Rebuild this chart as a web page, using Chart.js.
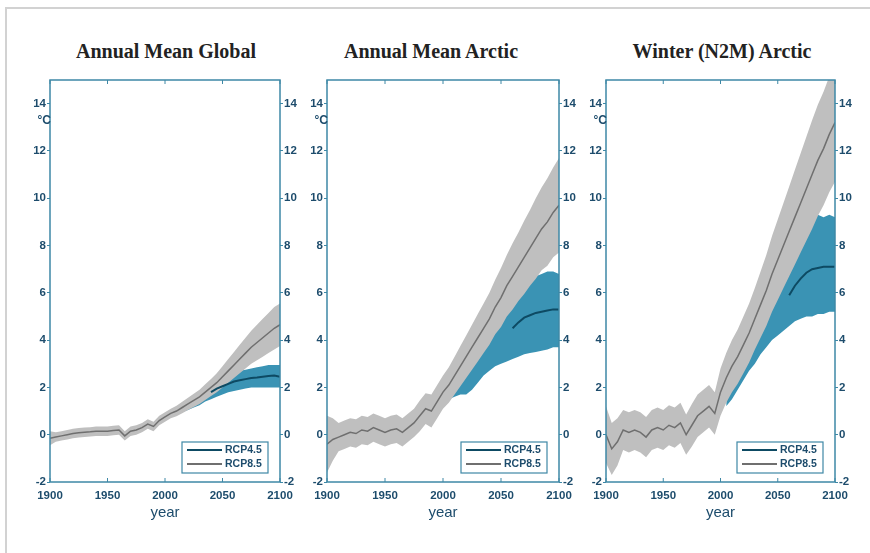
<!DOCTYPE html>
<html lang="en">
<head>
<meta charset="UTF-8">
<title>Temperature change projections</title>
<script src="https://cdn.jsdelivr.net/npm/chart.js@4.4.1/dist/chart.umd.min.js"></script>
<style>
  body { margin:0; background:#fff; width:870px; height:553px; position:relative; overflow:hidden; font-family:'Liberation Sans', Arial, sans-serif; }
  .frame { position:absolute; left:5px; top:7px; right:0; bottom:0; border-left:2px solid #d2d2d2; border-top:2px solid #d2d2d2; }
  .title { position:absolute; top:41px; line-height:20px; font-family:'Liberation Serif','Times New Roman',serif; font-weight:bold; font-size:20px; color:#222; white-space:nowrap; transform:translateX(-50%); }
  canvas { position:absolute; }
</style>
</head>
<body>
<div class="frame"></div>
<div class="title" style="left:166px">Annual Mean Global</div>
<div class="title" style="left:431px">Annual Mean Arctic</div>
<div class="title" style="left:722px">Winter (N2M) Arctic</div>
<canvas id="c1"></canvas>
<canvas id="c2"></canvas>
<canvas id="c3"></canvas>
<script>
// years for the RCP8.5 runs (historical + projection)
const years = [1900,1905,1910,1915,1920,1925,1930,1935,1940,1945,1950,1955,1960,1965,1970,1975,1980,1985,1990,1995,
               2000,2005,2010,2015,2020,2025,2030,2035,2040,2045,2050,2055,2060,2065,2070,2075,2080,2085,2090,2095,2100];
const bandYears45 = [2005,2010,2015,2020,2025,2030,2035,2040,2045,2050,2055,2060,2065,2070,2075,2080,2085,2090,2095,2100];
const lineYearsGlobal45 = [2040,2045,2050,2055,2060,2065,2070,2075,2080,2085,2090,2095,2100];
const lineYearsArctic45 = [2060,2065,2070,2075,2080,2085,2090,2095,2100];

const xTicks = [1900,1950,2000,2050,2100];
const yTicks = [-2,0,2,4,6,8,10,12,14];

// Annual mean global
const global85 = [-0.15,-0.1,-0.05,0.0,0.05,0.08,0.1,0.12,0.15,0.15,0.15,0.18,0.2,-0.05,0.15,0.2,0.3,0.45,0.35,0.6,
                  0.75,0.9,1.0,1.15,1.3,1.45,1.6,1.8,2.0,2.2,2.45,2.7,2.95,3.2,3.45,3.7,3.9,4.1,4.3,4.5,4.65];
const global85Lo = [-0.45,-0.3,-0.25,-0.2,-0.15,-0.12,-0.1,-0.08,-0.05,-0.05,-0.05,-0.02,0.0,-0.25,-0.05,0.0,0.1,0.25,0.15,0.4,
                    0.55,0.7,0.78,0.91,1.04,1.17,1.3,1.47,1.64,1.8,2.0,2.2,2.4,2.6,2.8,3.0,3.15,3.3,3.45,3.6,3.75];
const global85Hi = [0.15,0.1,0.15,0.2,0.25,0.28,0.3,0.32,0.35,0.35,0.35,0.38,0.4,0.15,0.35,0.4,0.5,0.65,0.55,0.8,
                    0.95,1.1,1.22,1.39,1.56,1.73,1.9,2.13,2.36,2.6,2.9,3.2,3.5,3.8,4.1,4.4,4.65,4.9,5.15,5.4,5.55];
const global45Lo = [0.75,0.85,0.95,1.05,1.15,1.25,1.4,1.5,1.6,1.7,1.8,1.85,1.9,1.95,2.0,2.0,2.0,2.0,2.0,2.0];
const global45Hi = [1.05,1.15,1.3,1.45,1.6,1.75,1.9,2.05,2.2,2.35,2.5,2.6,2.7,2.75,2.8,2.85,2.9,2.95,2.95,2.95];
const global45 = [1.8,1.95,2.05,2.15,2.25,2.3,2.35,2.4,2.42,2.45,2.48,2.5,2.45];

// Annual mean Arctic
const arctic85 = [-0.4,-0.2,-0.1,0.0,0.1,0.05,0.2,0.15,0.3,0.2,0.1,0.2,0.25,0.1,0.3,0.5,0.8,1.1,1.0,1.4,
                  1.8,2.1,2.5,2.9,3.3,3.7,4.1,4.5,4.9,5.4,5.8,6.3,6.7,7.1,7.5,7.9,8.3,8.7,9.0,9.4,9.7];
const arctic85Lo = [-1.6,-1.1,-0.7,-0.6,-0.5,-0.55,-0.4,-0.45,-0.3,-0.4,-0.5,-0.4,-0.35,-0.5,-0.3,-0.1,0.15,0.45,0.3,0.7,
                    1.1,1.35,1.7,2.05,2.4,2.75,3.1,3.45,3.8,4.25,4.55,5.0,5.3,5.65,5.95,6.3,6.6,6.95,7.15,7.5,7.7];
const arctic85Hi = [0.8,0.7,0.5,0.6,0.7,0.65,0.8,0.75,0.9,0.8,0.7,0.8,0.85,0.7,0.9,1.1,1.45,1.75,1.7,2.1,
                    2.5,2.85,3.3,3.75,4.2,4.65,5.1,5.55,6.0,6.55,7.05,7.6,8.1,8.55,9.05,9.5,10.0,10.45,10.85,11.3,11.7];
const arctic45Lo = [1.5,1.6,1.7,1.7,1.9,2.2,2.5,2.7,2.9,3.0,3.1,3.2,3.3,3.4,3.45,3.5,3.55,3.6,3.7,3.7];
const arctic45Hi = [2.6,3.0,3.4,3.8,4.1,4.4,4.7,5.0,5.3,5.5,5.7,6.0,6.2,6.4,6.6,6.7,6.8,6.9,6.9,6.8];
const arctic45 = [4.5,4.75,4.95,5.05,5.15,5.2,5.25,5.3,5.3];

// Winter (N2M) Arctic
const winter85 = [0.0,-0.6,-0.3,0.2,0.1,0.2,0.1,-0.1,0.2,0.3,0.2,0.4,0.3,0.5,0.0,0.4,0.8,1.0,1.2,0.9,
                  1.8,2.4,2.9,3.3,3.8,4.3,4.9,5.5,6.1,6.8,7.4,8.0,8.6,9.2,9.8,10.4,11.0,11.6,12.1,12.7,13.2];
const winter85Lo = [-1.2,-1.7,-1.3,-0.65,-0.75,-0.65,-0.75,-0.95,-0.65,-0.55,-0.65,-0.45,-0.55,-0.35,-0.85,-0.5,-0.1,0.1,0.3,0.0,
                    0.8,1.35,1.8,2.15,2.6,3.05,3.6,4.1,4.6,5.2,5.7,6.2,6.7,7.2,7.7,8.2,8.7,9.25,9.7,10.25,10.7];
const winter85Hi = [1.2,0.5,0.7,1.05,0.95,1.05,0.95,0.75,1.05,1.15,1.05,1.25,1.15,1.35,0.85,1.3,1.7,1.9,2.1,1.8,
                    2.8,3.45,4.0,4.45,5.0,5.55,6.2,6.9,7.6,8.4,9.1,9.8,10.5,11.2,11.9,12.6,13.3,13.95,14.5,15.15,15.7];
const winter45Lo = [1.2,1.5,1.9,2.3,2.7,3.0,3.4,3.7,4.0,4.2,4.4,4.6,4.8,4.9,5.0,5.0,5.1,5.1,5.2,5.2];
const winter45Hi = [3.4,3.9,4.3,4.9,5.3,6.0,6.4,6.9,7.4,7.8,8.2,8.5,8.8,9.1,9.2,9.2,9.3,9.2,9.3,9.2];
const winter45 = [5.9,6.3,6.6,6.85,7.0,7.05,7.1,7.1,7.1];

const AXIS = '#3e88a6';
const INK = '#1d4c6c';
const TEAL_BAND = '#3a93b4';
const TEAL_LINE = '#0d4a63';
const GRAY_BAND = '#bfbfbf';
const GRAY_LINE = '#6f6f6f';

const pts = (xs, ys) => xs.map((x, i) => ({ x: x, y: ys[i] }));

// border box, inward x ticks, degC label and legend
const panelDecor = {
  id: 'panelDecor',
  afterDatasetsDraw(chart) {
    const ctx = chart.ctx;
    const a = chart.chartArea;
    const xs = chart.scales.x, ys = chart.scales.y;
    ctx.save();
    ctx.strokeStyle = AXIS;
    ctx.lineWidth = 1.5;
    ctx.strokeRect(a.left, a.top, a.right - a.left, a.bottom - a.top);
    ctx.lineWidth = 1;
    ctx.beginPath();
    xTicks.forEach(v => {
      const px = xs.getPixelForValue(v);
      ctx.moveTo(px, a.bottom); ctx.lineTo(px, a.bottom - 4);
      ctx.moveTo(px, a.top); ctx.lineTo(px, a.top + 4);
    });
    ctx.stroke();

    ctx.fillStyle = INK;
    ctx.font = 'bold 12px "Liberation Sans", Arial, sans-serif';
    ctx.textAlign = 'right';
    ctx.textBaseline = 'middle';
    ctx.fillText('\u00B0C', a.left + 1, ys.getPixelForValue(13.3));

    // legend
    const items = chart.data.datasets.filter(d => d.inLegend).sort((p, q) => p.legendPos - q.legendPos);
    const bw = 86, bh = 31;
    const bx = a.right - 12 - bw, by = a.bottom - 9 - bh;
    ctx.fillStyle = '#fff';
    ctx.fillRect(bx, by, bw, bh);
    ctx.strokeStyle = AXIS;
    ctx.lineWidth = 1.2;
    ctx.strokeRect(bx, by, bw, bh);
    ctx.font = 'bold 10.5px "Liberation Sans", Arial, sans-serif';
    ctx.textAlign = 'left';
    items.forEach((d, i) => {
      const ly = by + 8 + i * 14;
      ctx.strokeStyle = d.borderColor;
      ctx.lineWidth = 2;
      ctx.beginPath(); ctx.moveTo(bx + 5, ly); ctx.lineTo(bx + 40, ly); ctx.stroke();
      ctx.fillStyle = INK;
      ctx.fillText(d.label, bx + 43, ly + 0.5);
    });
    ctx.restore();
  }
};

function makePanel(id, box, band45Lo, band45Hi, line45Years, line45, band85Lo, band85Hi, line85) {
  const cv = document.getElementById(id);
  cv.width = box.right - box.left + 75;
  cv.height = 470;
  cv.style.left = (box.left - 45) + 'px';
  cv.style.top = '70px';
  const clear = 'rgba(0,0,0,0)';
  const tickFont = { family: '"Liberation Sans", Arial, sans-serif', size: 11.5, weight: 'bold' };
  const yScale = (pos, w) => ({
    type: 'linear', position: pos, min: -2, max: 15,
    afterBuildTicks: s => { s.ticks = yTicks.map(v => ({ value: v })); },
    afterFit: s => { s.width = w; },
    grid: { display: true, drawOnChartArea: false, drawTicks: true, tickLength: 3, color: AXIS },
    border: { display: false },
    ticks: { color: INK, font: tickFont, padding: 1, callback: v => String(v) }
  });
  return new Chart(cv, {
    type: 'line',
    data: {
      datasets: [
        { label: 'lo45', data: pts(bandYears45, band45Lo), order: 5, borderColor: clear, borderWidth: 0, fill: false },
        { label: 'hi45', data: pts(bandYears45, band45Hi), order: 4, borderColor: clear, borderWidth: 0, fill: '-1', backgroundColor: TEAL_BAND },
        { label: 'lo85', data: pts(years, band85Lo), order: 3, borderColor: clear, borderWidth: 0, fill: false },
        { label: 'hi85', data: pts(years, band85Hi), order: 2, borderColor: clear, borderWidth: 0, fill: '-1', backgroundColor: GRAY_BAND },
        { label: 'RCP8.5', data: pts(years, line85), order: 1, borderColor: GRAY_LINE, borderWidth: 1.5, fill: false, inLegend: true, legendPos: 1 },
        { label: 'RCP4.5', data: pts(line45Years, line45), order: 0, borderColor: TEAL_LINE, borderWidth: 2, fill: false, inLegend: true, legendPos: 0 }
      ]
    },
    options: {
      responsive: false,
      animation: false,
      layout: { padding: { top: 10, left: 0, right: 0, bottom: 0 } },
      elements: { point: { radius: 0 }, line: { tension: 0 } },
      plugins: { legend: { display: false }, tooltip: { enabled: false }, title: { display: false } },
      scales: {
        x: {
          type: 'linear', min: 1900, max: 2100,
          afterBuildTicks: s => { s.ticks = xTicks.map(v => ({ value: v })); },
          afterFit: s => { s.height = 58; },
          grid: { display: false, drawTicks: false },
          border: { display: false },
          ticks: { color: INK, font: tickFont, padding: 7, maxRotation: 0, callback: v => String(v) },
          title: { display: true, text: 'year', color: INK, font: { family: '"Liberation Sans", Arial, sans-serif', size: 15 }, padding: { top: 0, bottom: 18 } }
        },
        y: yScale('left', 45),
        y2: yScale('right', 30)
      }
    },
    plugins: [panelDecor]
  });
}

makePanel('c1', { left: 50, right: 280 }, global45Lo, global45Hi, lineYearsGlobal45, global45, global85Lo, global85Hi, global85);
makePanel('c2', { left: 327, right: 559 }, arctic45Lo, arctic45Hi, lineYearsArctic45, arctic45, arctic85Lo, arctic85Hi, arctic85);
makePanel('c3', { left: 606, right: 835 }, winter45Lo, winter45Hi, lineYearsArctic45, winter45, winter85Lo, winter85Hi, winter85);
</script>
</body>
</html>
